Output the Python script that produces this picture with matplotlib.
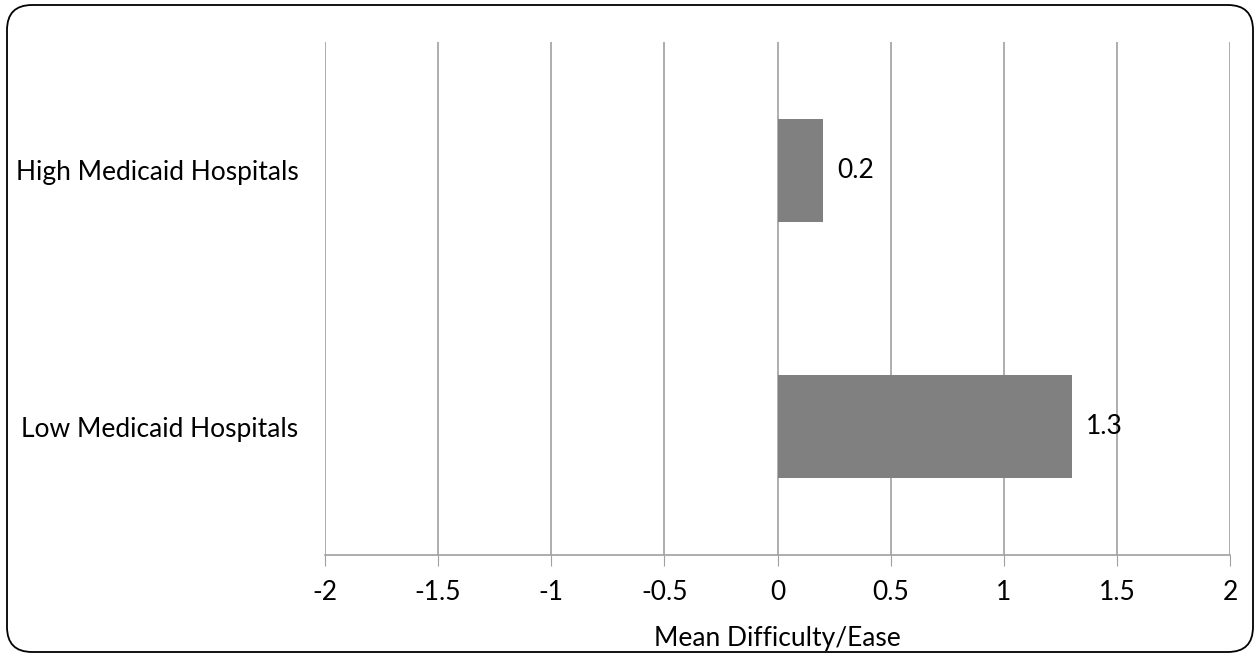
import matplotlib
matplotlib.use("Agg")
import matplotlib.pyplot as plt
from matplotlib.patches import FancyBboxPatch

categories = ["Low Medicaid Hospitals", "High Medicaid Hospitals"]
values = [1.3, 0.2]
xticks = [-2, -1.5, -1, -0.5, 0, 0.5, 1, 1.5, 2]
xticklabels = ["-2", "-1.5", "-1", "-0.5", "0", "0.5", "1", "1.5", "2"]
xlabel = "Mean Difficulty/Ease"

plt.rcParams['font.family'] = ['Lato', 'DejaVu Sans']
W, H = 1255, 654
fs = 19
fig = plt.figure(figsize=(W / 100, H / 100), dpi=100)
ax = fig.add_axes([325 / W, 1 - 555 / H, (1230 - 325) / W, (555 - 42) / H])

ypos = list(range(len(categories)))
ax.barh(ypos, values, height=0.4, color="#808080", zorder=3)
for y, v in zip(ypos, values):
    ax.text(v + 0.065, y, f"{v}", va="center", ha="left", fontsize=fs, color="black", zorder=4)

ax.set_xlim(-2, 2)
ax.set_ylim(-0.5, 1.5)
ax.set_xticks(xticks)
ax.set_xticklabels(xticklabels, fontsize=fs)
ax.set_yticks(ypos)
ax.set_yticklabels(categories, fontsize=fs)
ax.tick_params(axis='y', length=0, pad=19)
ax.tick_params(axis='x', length=8, color="#a0a0a0", pad=10, direction="out")
ax.xaxis.grid(True, color="#a0a0a0", linewidth=1.2, zorder=0)
for s in ["top", "right", "left"]:
    ax.spines[s].set_visible(False)
ax.spines["bottom"].set_color("#a0a0a0")
ax.spines["bottom"].set_linewidth(1.2)
ax.set_xlabel(xlabel, fontsize=fs, labelpad=15)

border = FancyBboxPatch((7 / W, 2 / H), (1253 - 7) / W, (649 - 2) / H,
                        boxstyle="round,pad=0,rounding_size=0.02",
                        transform=fig.transFigure, fill=False,
                        edgecolor="black", linewidth=1.3,
                        mutation_aspect=W / H)
fig.patches.append(border)

fig.savefig("out.png", dpi=100)
